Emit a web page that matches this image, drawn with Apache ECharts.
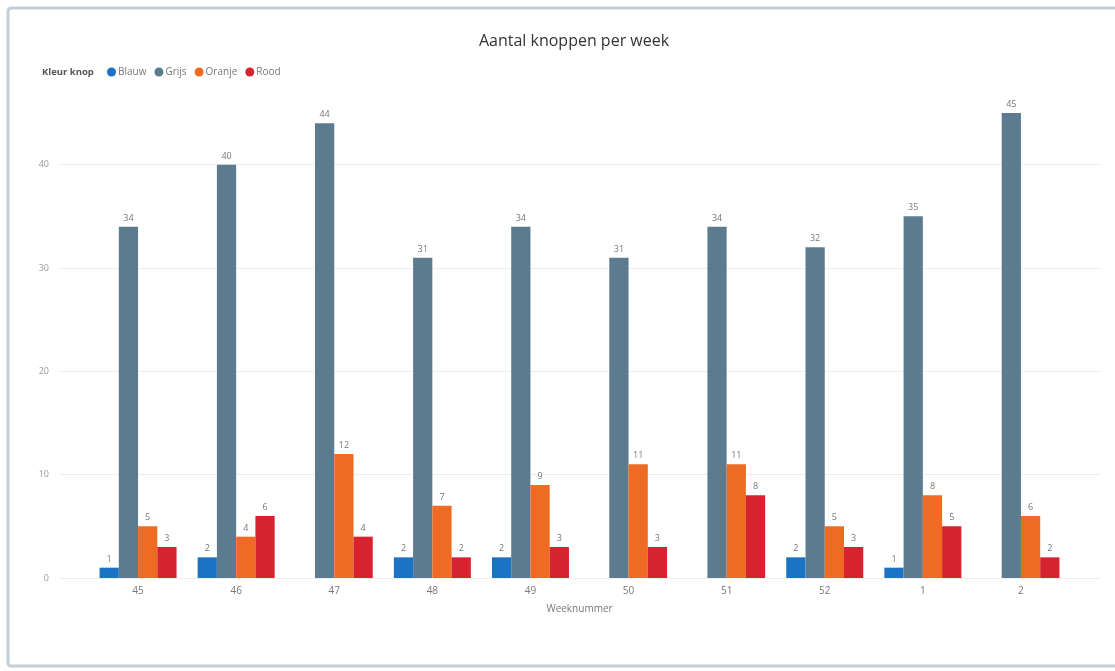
<!DOCTYPE html>
<html>
<head>
<meta charset="utf-8">
<script src="https://cdn.jsdelivr.net/npm/echarts@6/dist/echarts.min.js"></script>
<style>
html,body{margin:0;padding:0;background:#fff;}
#chart{width:1115px;height:671px;}
</style>
</head>
<body>
<div id="chart"></div>
<script>
var weeks = ['45','46','47','48','49','50','51','52','1','2'];
var blauw = [1, 2, null, 2, 2, null, null, 2, 1, null];
var grijs = [34, 40, 44, 31, 34, 31, 34, 32, 35, 45];
var oranje = [5, 4, 12, 7, 9, 11, 11, 5, 8, 6];
var rood = [3, 6, 4, 2, 3, 3, 8, 3, 5, 2];
var yTicks = [0, 10, 20, 30, 40];

var FONT = '"Open Sans", "Noto Sans", sans-serif';
var chart = echarts.init(document.getElementById('chart'));

function bar(name, data, color) {
  return {
    name: name, type: 'bar', data: data, xAxisIndex: 0, yAxisIndex: 0,
    barGap: '0%', barCategoryGap: '21.5%',
    itemStyle: { color: color },
    label: { show: true, position: 'top', distance: 4, color: '#777', fontSize: 9, fontFamily: FONT },
    emphasis: { disabled: true }
  };
}

chart.setOption({
  animation: false,
  backgroundColor: '#fff',
  textStyle: { fontFamily: FONT },
  graphic: [{
    type: 'rect', z: -10, silent: true,
    shape: { x: 8, y: 8, width: 1115, height: 658, r: 3 },
    style: { fill: '#fff', stroke: '#c4cdd6', lineWidth: 3 }
  }],
  title: [{
    text: 'Aantal knoppen per week', left: 569, textAlign: 'center', top: 28,
    textStyle: { fontSize: 16, fontWeight: 'normal', color: '#333', fontFamily: FONT }
  }, {
    text: 'Kleur knop', left: 37, top: 62,
    textStyle: { fontSize: 9.5, fontWeight: 'bold', color: '#555', fontFamily: FONT }
  }],
  legend: {
    left: 102, top: 62, icon: 'circle', itemWidth: 9, itemHeight: 9, itemGap: 8,
    textStyle: { fontSize: 10, color: '#777', fontFamily: FONT, padding: [0, 0, 0, -3] },
    data: ['Blauw', 'Grijs', 'Oranje', 'Rood']
  },
  grid: [
    { left: 89, right: 45, top: 82, bottom: 93 },
    { left: 60, right: 15, top: 82, bottom: 93 }
  ],
  xAxis: [{
    type: 'category', gridIndex: 0, data: weeks,
    axisLine: { show: false }, axisTick: { show: false },
    axisLabel: { color: '#777', fontSize: 10, margin: 8, fontFamily: FONT },
    name: 'Weeknummer', nameLocation: 'middle', nameGap: 26,
    nameTextStyle: { color: '#777', fontSize: 10, fontFamily: FONT }
  }, {
    type: 'value', gridIndex: 1, show: false
  }],
  yAxis: [{
    type: 'value', gridIndex: 0, min: 0, max: 48, show: false, splitLine: { show: false }
  }, {
    type: 'value', gridIndex: 1, min: 0, max: 48, interval: 10,
    axisLine: { show: false },
    axisTick: { show: false, customValues: yTicks },
    axisLabel: { color: '#999', fontSize: 9, margin: 11, customValues: yTicks, fontFamily: FONT },
    splitLine: { show: true, lineStyle: { color: '#ededed', width: 1 } }
  }],
  series: [
    bar('Blauw', blauw, '#1a73c4'),
    bar('Grijs', grijs, '#5d7b8f'),
    bar('Oranje', oranje, '#ef6b24'),
    bar('Rood', rood, '#d7232f')
  ]
});
</script>
</body>
</html>
